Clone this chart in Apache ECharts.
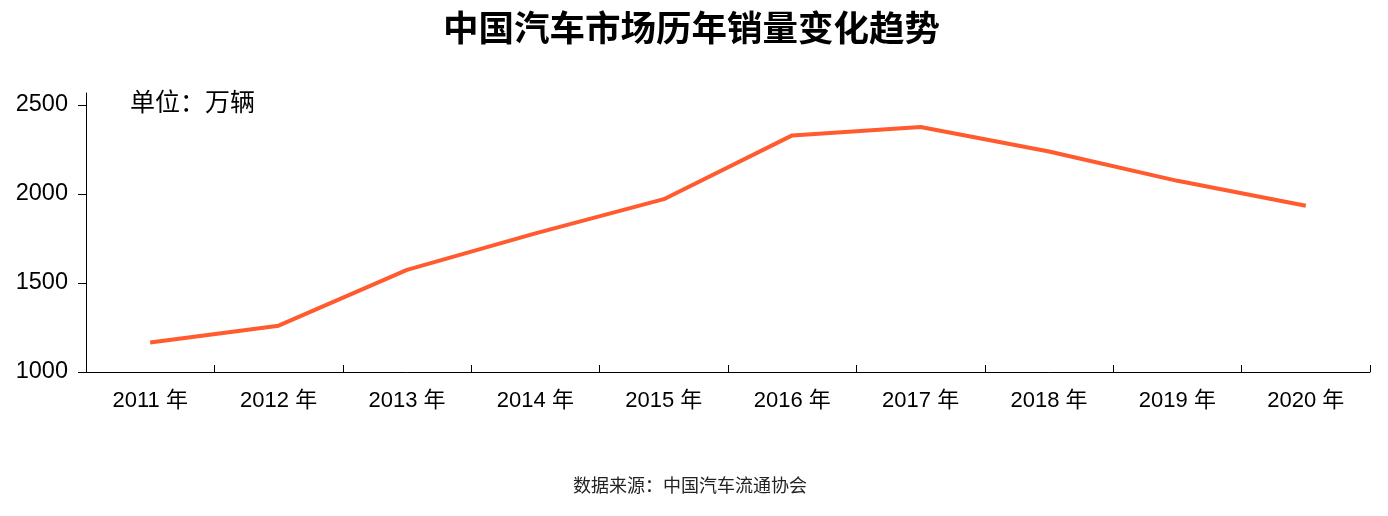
<!DOCTYPE html>
<html>
<head>
<meta charset="utf-8">
<script src="https://cdn.jsdelivr.net/npm/echarts@6/dist/echarts.min.js"></script>
<style>html,body{margin:0;padding:0;background:#fff}#c{width:1388px;height:516px}</style>
</head>
<body>
<div id="c"></div>
<script>
const categories = ['2011 年','2012 年','2013 年','2014 年','2015 年','2016 年','2017 年','2018 年','2019 年','2020 年'];
const sales = [1165, 1260, 1573, 1778, 1970, 2328, 2375, 2238, 2073, 1933];
const yTicks = [1000, 1500, 2000, 2500];

const chart = echarts.init(document.getElementById('c'), null, {renderer: 'canvas'});
const fontMix = '"Liberation Sans", Arial, "Noto Sans CJK SC", sans-serif';
chart.setOption({
  animation: false,
  backgroundColor: '#fff',
  title: {
    text: '中国汽车市场历年销量变化趋势',
    left: 438,
    top: 5,
    textStyle: {fontFamily: '"Noto Sans CJK SC", sans-serif', fontWeight: 'bold', fontSize: 35.5, color: '#000'}
  },
  grid: {left: 86, right: 18, top: 93, bottom: 144, containLabel: false, outerBoundsMode: 'none'},
  xAxis: {
    type: 'category',
    data: categories,
    boundaryGap: true,
    axisLine: {show: true, lineStyle: {color: '#000', width: 1}},
    axisTick: {show: true, inside: true, length: 7, lineStyle: {color: '#000'}},
    axisLabel: {margin: 18, fontSize: 22, color: '#000', fontFamily: fontMix}
  },
  yAxis: {
    type: 'value',
    min: 1000,
    max: 2566,
    axisLine: {show: true, lineStyle: {color: '#000', width: 1}},
    axisTick: {show: true, inside: false, length: 8, customValues: yTicks, lineStyle: {color: '#000'}},
    axisLabel: {margin: 18, fontSize: 23.5, color: '#000', fontFamily: fontMix, customValues: yTicks, formatter: v => String(v)},
    splitLine: {show: false}
  },
  graphic: [
    {type: 'text', left: 130, top: 89, style: {text: '单位：万辆', fontSize: 25, fill: '#000', fontFamily: '"Noto Sans CJK SC", sans-serif'}},
    {type: 'text', left: 573, top: 476, style: {text: '数据来源：中国汽车流通协会', fontSize: 18, fill: '#222', fontFamily: '"Noto Sans CJK SC", sans-serif'}}
  ],
  series: [{
    type: 'line',
    data: sales,
    symbol: 'none',
    smooth: false,
    lineStyle: {color: '#FF5B2E', width: 4}
  }]
});
</script>
</body>
</html>
